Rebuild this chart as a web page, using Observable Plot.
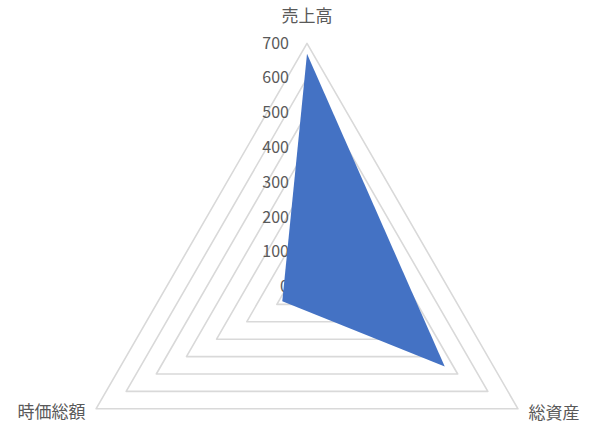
<!DOCTYPE html>
<html>
<head>
<meta charset="utf-8">
<script src="https://cdn.jsdelivr.net/npm/d3@7"></script>
<script src="https://cdn.jsdelivr.net/npm/@observablehq/plot@0.6"></script>
<style>
  html, body { margin: 0; padding: 0; background: #fff; }
  #chart svg { display: block; }
</style>
</head>
<body>
<div id="chart"></div>
<script>
const axisNames = ["売上高", "総資産", "時価総額"];
const seriesValues = [670, 457, 82];
const tickValues = [0, 100, 200, 300, 400, 500, 600, 700];

const n = axisNames.length;
const angle = i => (i * 2 * Math.PI) / n;
const px = (v, i) => v * Math.sin(angle(i));
const py = (v, i) => v * Math.cos(angle(i));

const gridRows = tickValues.filter(t => t > 0).flatMap(t =>
  axisNames.map((name, i) => ({ ring: t, x: px(t, i), y: py(t, i) }))
);
const seriesRows = seriesValues.map((v, i) => ({ name: axisNames[i], x: px(v, i), y: py(v, i) }));
const tickRows = tickValues.map(t => ({ label: String(t), x: 0, y: t }));
const maxV = tickValues[tickValues.length - 1];
const labelRows = axisNames.map((name, i) => ({ name, x: px(maxV, i), y: py(maxV, i) }));

const cx = 306.5, cy = 286.5, R = 243.6;
const font = "'Noto Sans CJK JP', 'Noto Sans', sans-serif";

const chart = Plot.plot({
  width: 601,
  height: 429,
  margin: 0,
  style: { fontFamily: font, background: "#fff", overflow: "visible" },
  x: { domain: [-maxV, maxV], range: [cx - R, cx + R], axis: null },
  y: { domain: [-maxV, maxV], range: [cy + R, cy - R], axis: null },
  marks: [
    Plot.line(gridRows, { x: "x", y: "y", z: "ring", curve: "linear-closed", stroke: "#D9D9D9", strokeWidth: 1.6 }),
    Plot.text(tickRows, { x: "x", y: "y", text: "label", textAnchor: "end", dx: -18, fill: "#595959", fontSize: 16, lineAnchor: "middle" }),
    Plot.line(seriesRows, { x: "x", y: "y", curve: "linear-closed", fill: "#4472C4", stroke: "none" }),
    Plot.text([labelRows[0]], { x: "x", y: "y", text: "name", textAnchor: "middle", dy: -27, fill: "#595959", fontSize: 17, lineAnchor: "middle" }),
    Plot.text([labelRows[1]], { x: "x", y: "y", text: "name", textAnchor: "start", dx: 10.5, dy: 4.4, fill: "#595959", fontSize: 17, lineAnchor: "middle" }),
    Plot.text([labelRows[2]], { x: "x", y: "y", text: "name", textAnchor: "end", dx: -10.5, dy: 3.4, fill: "#595959", fontSize: 17, lineAnchor: "middle" })
  ]
});
document.getElementById("chart").appendChild(chart);
</script>
</body>
</html>
